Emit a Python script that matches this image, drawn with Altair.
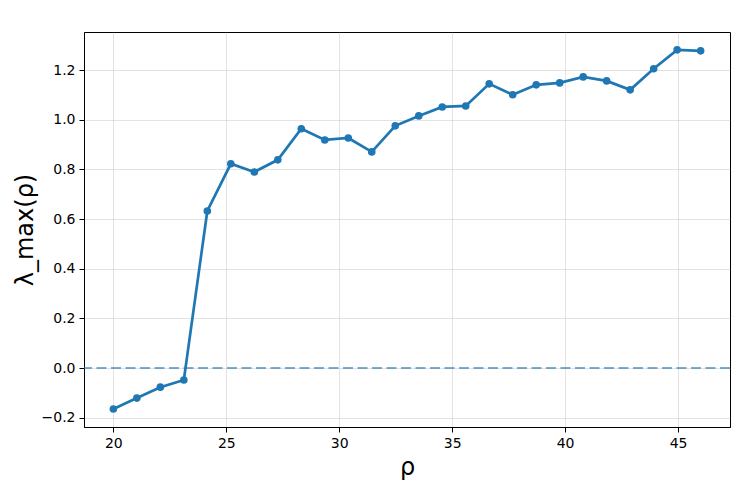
import altair as alt
import pandas as pd

rho = [20.0, 21.04, 22.08, 23.12, 24.16, 25.2, 26.24, 27.28, 28.32, 29.36,
       30.4, 31.44, 32.48, 33.52, 34.56, 35.6, 36.64, 37.68, 38.72, 39.76,
       40.8, 41.84, 42.88, 43.92, 44.96, 46.0]
lam_max = [-0.165, -0.121, -0.077, -0.048, 0.633, 0.823, 0.790, 0.839, 0.964, 0.919,
           0.927, 0.871, 0.976, 1.016, 1.052, 1.056, 1.145, 1.101, 1.141, 1.149,
           1.173, 1.157, 1.121, 1.206, 1.282, 1.278]
x_ticks = [20, 25, 30, 35, 40, 45]
y_ticks = [-0.2, 0.0, 0.2, 0.4, 0.6, 0.8, 1.0, 1.2]

df = pd.DataFrame({"rho": rho, "lam": lam_max})

FONT = "DejaVu Sans"
BLUE = "#1f77b4"

xscale = alt.Scale(domain=[18.7, 47.3], nice=False, zero=False)
yscale = alt.Scale(domain=[-0.2375, 1.354], nice=False, zero=False)

xaxis = alt.Axis(values=x_ticks, title="ρ", format="d", titleY=47,
                 titleBaseline="alphabetic")
yaxis = alt.Axis(values=y_ticks, title="λ_max(ρ)", format=".1f", titleX=-52,
                 titleBaseline="alphabetic")

base = alt.Chart(df)

zero_line = alt.Chart(pd.DataFrame({"y": [0.0]})).mark_rule(
    color=BLUE, opacity=0.6, strokeWidth=2, strokeDash=[10, 4.5]
).encode(y=alt.Y("y:Q", scale=yscale, axis=yaxis))

line = base.mark_line(color=BLUE, strokeWidth=2.7).encode(
    x=alt.X("rho:Q", scale=xscale, axis=xaxis),
    y=alt.Y("lam:Q", scale=yscale, axis=yaxis),
)
pts = base.mark_circle(color=BLUE, opacity=1, size=58).encode(
    x=alt.X("rho:Q", scale=xscale, axis=xaxis),
    y=alt.Y("lam:Q", scale=yscale, axis=yaxis),
)

chart = alt.layer(zero_line, line, pts).properties(
    width=646, height=395,
    autosize=alt.AutoSizeParams(type="none"),
    padding={"left": 76, "top": 24, "right": 2, "bottom": 55},
).configure_view(
    stroke="black", strokeWidth=1
).configure_axis(
    labelFont=FONT, titleFont=FONT, labelFontSize=14, titleFontSize=24,
    titleFontWeight="normal", labelColor="black", titleColor="black",
    tickColor="black", tickSize=5, tickWidth=1,
    domainColor="black", domainWidth=1,
    gridColor="#b0b0b0", gridOpacity=0.35, gridWidth=1,
    labelPadding=4,
).configure_axisX(labelFlush=False).configure_axisY(labelFlush=False)

chart.save("out.html", embed_options={"renderer": "svg", "actions": False})
